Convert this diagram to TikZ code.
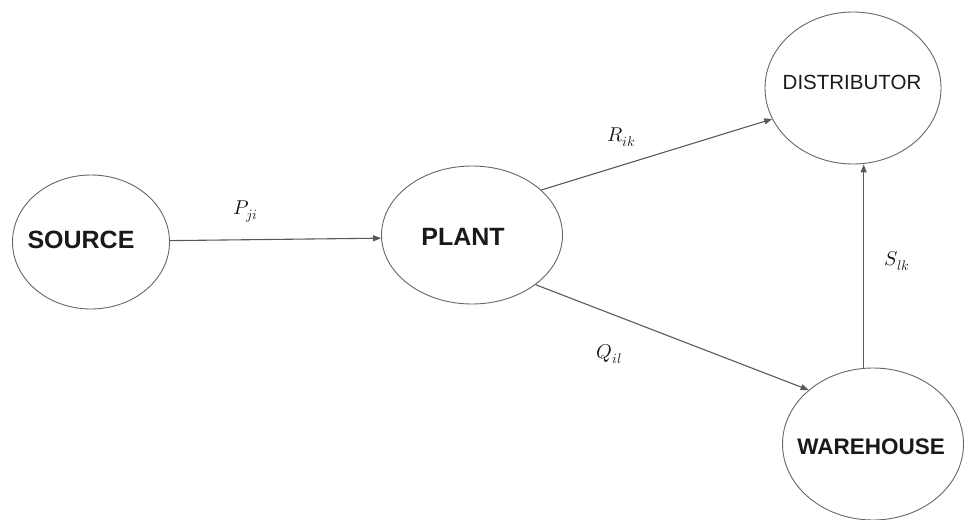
\documentclass[tikz,border=0pt]{standalone}
\usepackage{fontspec}
\usepackage{unicode-math}
\setmainfont{Liberation Sans}
\setmathfont{Latin Modern Math}
\usetikzlibrary{shapes.geometric,arrows.meta}

\tikzset{
  stage/.style={ellipse, draw=black!60, line width=0.9pt, inner sep=0pt},
  stagename/.style={font=\bfseries\fontsize{25}{25}\selectfont, text=black!90},
  flow/.style={draw=black!65, line width=1.1pt,
               -{Triangle[length=8pt,width=6pt]}},
  flowlabel/.style={font=\fontsize{20}{20}\selectfont, text=black!90}
}

\begin{document}
\begin{tikzpicture}[x=1pt,y=-1pt]
  \useasboundingbox (0,0) rectangle (965,519);

  % the four stages of the supply chain
  \node[stage, minimum width=157pt, minimum height=134pt] (source) at (91,242) {};
  \node[stage, minimum width=181pt, minimum height=138pt] (plant)  at (472,235) {};
  \node[stage, minimum width=176pt, minimum height=152pt] (dist)   at (853,88) {};
  \node[stage, minimum width=181pt, minimum height=152pt] (ware)   at (873,444) {};

  \node[stagename] (sourcename) at (81,240)  {SOURCE};
  \node[stagename] (plantname)  at (463,237) {PLANT};
  \node[stagename, font=\fontsize{20.5}{20.5}\selectfont] (distname) at (852,82) {DISTRIBUTOR};
  \node[stagename, font=\bfseries\fontsize{22.5}{22.5}\selectfont] (warename) at (871,447) {WAREHOUSE};

  % material flows between stages
  \draw[flow] (source.1) -- (plant.182);
  \draw[flow] (plant.33) -- (dist.201);
  \draw[flow] (plant.322) -- (ware.140);
  \coordinate (wtop) at (ware.97);
  \draw[flow] (wtop) -- (wtop |- dist.south);

  \node[flowlabel] (p) at (246,212) {$P_{ji}$};
  \node[flowlabel] (r) at (621,137) {$R_{ik}$};
  \node[flowlabel] (q) at (609,354) {$Q_{il}$};
  \node[flowlabel] (s) at (897,261) {$S_{lk}$};
\end{tikzpicture}
\end{document}
